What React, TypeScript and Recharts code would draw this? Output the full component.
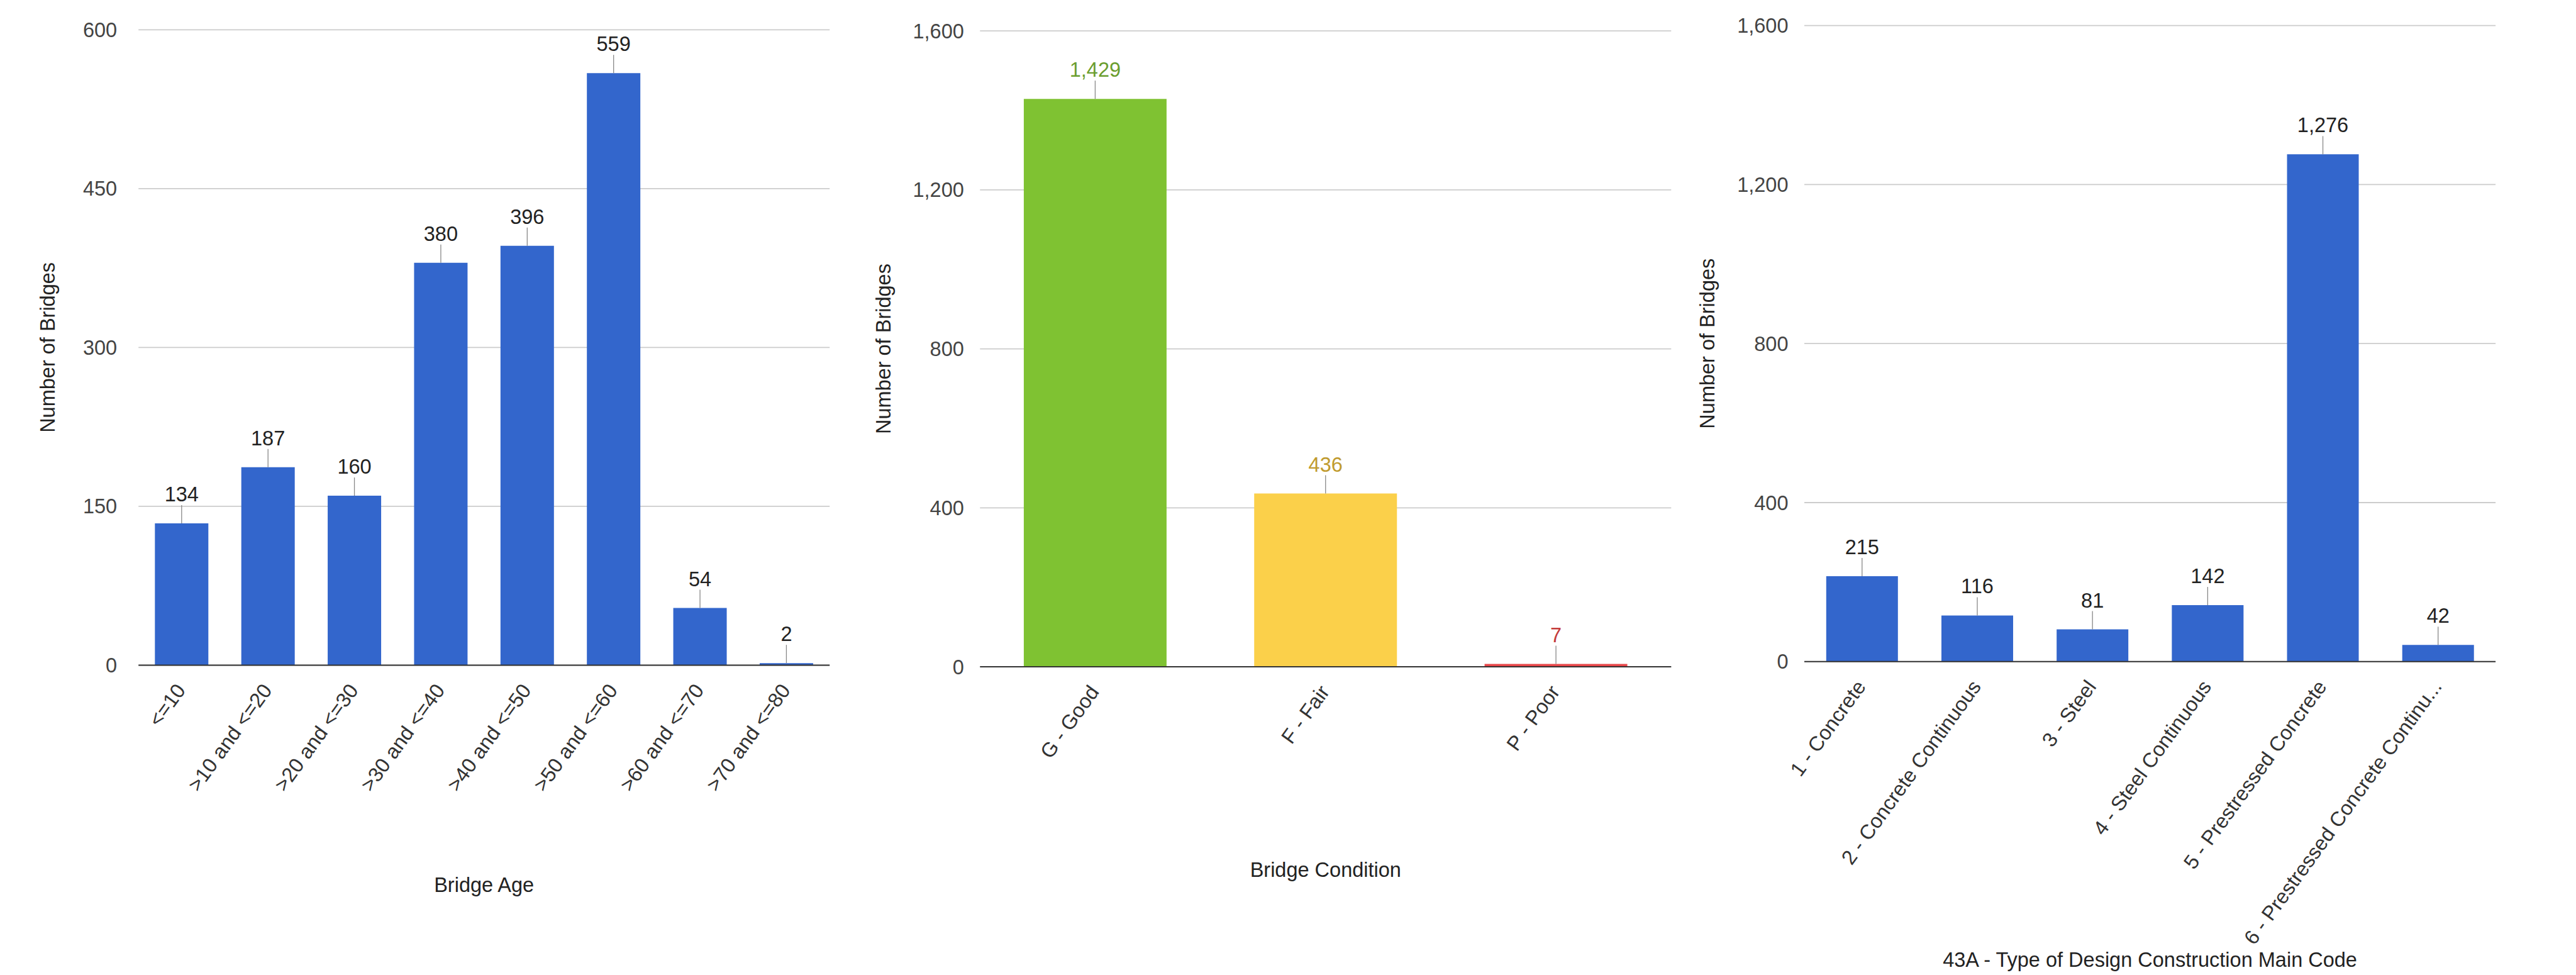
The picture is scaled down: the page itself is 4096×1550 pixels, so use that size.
import React from 'react'
import { BarChart, Bar, XAxis, YAxis, CartesianGrid, LabelList, Cell, Label } from 'recharts'

const ageBands = ['<=10', '>10 and <=20', '>20 and <=30', '>30 and <=40', '>40 and <=50', '>50 and <=60', '>60 and <=70', '>70 and <=80']
const ageCounts = [134, 187, 160, 380, 396, 559, 54, 2]
const ageTicks = [0, 150, 300, 450, 600]

const conditionNames = ['G - Good', 'F - Fair', 'P - Poor']
const conditionCounts = [1429, 436, 7]
const conditionTicks = [0, 400, 800, 1200, 1600]

const designNames = [
  '1 - Concrete',
  '2 - Concrete Continuous',
  '3 - Steel',
  '4 - Steel Continuous',
  '5 - Prestressed Concrete',
  '6 - Prestressed Concrete Continuous',
]
const designCounts = [215, 116, 81, 142, 1276, 42]
const designTicks = [0, 400, 800, 1200, 1600]

const BLUE = '#3366cc'
const conditionColors = ['#7fc232', '#fbd04a', '#e8474a']
const conditionLabelColors = ['#6b9e2f', '#c09b30', '#c43b3b']

const H = 1550
const FONT = '"Liberation Sans", Arial, Helvetica, sans-serif'
const FS = 32.5

const fmt = (v: number) => Number(v).toLocaleString('en-US')

// google charts cuts long slanted labels
const shorten = (s: string) => (s.length > 34 ? s.slice(0, 32) + '...' : s)

const XTick = (props: any) => {
  const { x, y, payload } = props
  const ax = x + 7.5
  const ay = y + 40
  return (
    <text x={ax} y={ay} textAnchor="end" transform={`rotate(-54, ${ax}, ${ay})`} fill="#333" fontSize={FS} fontFamily={FONT}>
      {shorten(String(payload.value))}
    </text>
  )
}

const makeValueLabel = (colors: string[], values: number[]) => (props: any) => {
  const vb = props.viewBox && props.viewBox.width !== undefined ? props.viewBox : props
  const x = Number(vb.x)
  const y = Number(vb.y)
  const w = Number(vb.width)
  const h = Number(vb.height)
  const top = h < 0 ? y + h : y
  const cx = x + w / 2
  let idx = typeof props.index === 'number' ? props.index : values.indexOf(Number(props.value))
  if (idx < 0) idx = 0
  return (
    <g>
      <line x1={cx} y1={top} x2={cx} y2={top - 29} stroke="#888" strokeWidth={1.3} />
      <text x={cx} y={top - 35} textAnchor="middle" fill={colors[idx % colors.length]} fontSize={FS} fontFamily={FONT}>
        {fmt(props.value)}
      </text>
    </g>
  )
}

interface PanelProps {
  left: number
  width: number
  plot: { left: number; right: number; top: number; bottom: number }
  names: string[]
  counts: number[]
  ticks: number[]
  tickGap: number
  xTitle: string
  xTitleY: number
  yTitleX: number
  barColors: string[]
  labelColors: string[]
}

const Panel = ({ left, width, plot, names, counts, ticks, tickGap, xTitle, xTitleY, yTitleX, barColors, labelColors }: PanelProps) => {
  const xAxisH = 400
  const data = names.map((name, i) => ({ name, count: counts[i] }))
  const margin = { top: plot.top, right: left + width - plot.right, bottom: H - plot.bottom - xAxisH, left: 0 }

  return (
    <div style={{ position: 'absolute', left, top: 0 }}>
      <BarChart width={width} height={H} data={data} margin={margin} barCategoryGap="19%">
        <CartesianGrid vertical={false} stroke="#cccccc" strokeWidth={1.8} />
        <XAxis
          dataKey="name"
          interval={0}
          height={xAxisH}
          tickLine={false}
          tickSize={0}
          tickMargin={0}
          axisLine={{ stroke: '#333', strokeWidth: 2 }}
          tick={XTick}
        >
          <Label
            content={(p: any) => {
              const vb = p.viewBox || {}
              const cx = vb.width !== undefined ? vb.x + vb.width / 2 : (plot.left + plot.right) / 2 - left
              return (
                <text x={cx} y={xTitleY} textAnchor="middle" fill="#222" fontSize={FS} fontFamily={FONT}>
                  {xTitle}
                </text>
              )
            }}
          />
        </XAxis>
        <YAxis
          type="number"
          domain={[0, ticks[ticks.length - 1]]}
          ticks={ticks}
          interval={0}
          width={plot.left - left}
          axisLine={false}
          tickLine={false}
          tickSize={0}
          tickMargin={tickGap}
          tick={{ fill: '#444', fontSize: FS, fontFamily: FONT }}
          tickFormatter={fmt}
        >
          <Label
            content={() => {
              const cy = (plot.top + plot.bottom) / 2
              return (
                <text x={yTitleX} y={cy} textAnchor="middle" transform={`rotate(-90, ${yTitleX}, ${cy})`} fill="#222" fontSize={FS} fontFamily={FONT}>
                  Number of Bridges
                </text>
              )
            }}
          />
        </YAxis>
        <Bar dataKey="count" fill={barColors[0]} isAnimationActive={false}>
          {data.map((_, i) => (
            <Cell key={i} fill={barColors[i % barColors.length]} />
          ))}
          <LabelList dataKey="count" content={makeValueLabel(labelColors, counts)} />
        </Bar>
      </BarChart>
    </div>
  )
}

export default function App() {
  return (
    <div style={{ position: 'absolute', left: 0, top: 0, width: 4096, height: H, background: '#fff' }}>
      <Panel
        left={0}
        width={1360}
        plot={{ left: 220.2, right: 1319.2, top: 47.3, bottom: 1057.5 }}
        names={ageBands}
        counts={ageCounts}
        ticks={ageTicks}
        tickGap={34}
        xTitle="Bridge Age"
        xTitleY={1418}
        yTitleX={87}
        barColors={[BLUE]}
        labelColors={['#222']}
      />
      <Panel
        left={1370}
        width={1320}
        plot={{ left: 1558.3, right: 2657.3, top: 49.1, bottom: 1060 }}
        names={conditionNames}
        counts={conditionCounts}
        ticks={conditionTicks}
        tickGap={25.5}
        xTitle="Bridge Condition"
        xTitleY={1393.6 - 0}
        yTitleX={46.2}
        barColors={conditionColors}
        labelColors={conditionLabelColors}
      />
      <Panel
        left={2690}
        width={1406}
        plot={{ left: 2869, right: 3968.1, top: 40.6, bottom: 1051.8 }}
        names={designNames}
        counts={designCounts}
        ticks={designTicks}
        tickGap={25.5}
        xTitle="43A - Type of Design Construction Main Code"
        xTitleY={1537}
        yTitleX={36}
        barColors={[BLUE]}
        labelColors={['#222']}
      />
    </div>
  )
}
